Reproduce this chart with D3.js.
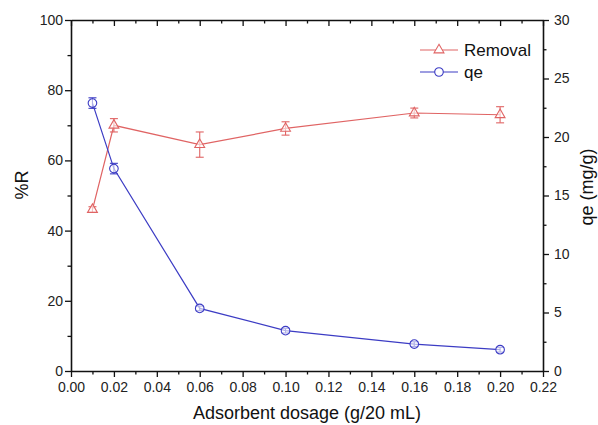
<!DOCTYPE html>
<html><head><meta charset="utf-8">
<script src="https://cdn.jsdelivr.net/npm/d3@7/dist/d3.min.js"></script>
<style>body{margin:0;background:#fff}svg{display:block;font-family:"Liberation Sans",Arial,sans-serif}</style>
</head><body><svg id="c" width="598" height="425"></svg>
<script>
const dosage = [0.01, 0.02, 0.06, 0.10, 0.16, 0.20];
const removal = [46.0, 70.0, 64.5, 69.1, 73.5, 73.0];
const removalErr = [0.8, 1.9, 3.6, 1.9, 1.4, 2.3];
const qe = [22.9, 17.3, 5.35, 3.45, 2.3, 1.82];
const qeErr = [0.45, 0.45, 0.2, 0.2, 0.2, 0.2];
const xTicks = [0,0.02,0.04,0.06,0.08,0.10,0.12,0.14,0.16,0.18,0.20,0.22];
const yLeftTicks = [0,20,40,60,80,100];
const yRightTicks = [0,5,10,15,20,25,30];

const svg = d3.select("#c");
const L=71,R=543,T=20,B=371;
const x = d3.scaleLinear().domain([0,0.22]).range([L,R]);
const yL = d3.scaleLinear().domain([0,100]).range([B,T]);
const yR = d3.scaleLinear().domain([0,30]).range([B,T]);
const red="#e06464", blue="#3c3cc4";

function styleAxis(g){
  g.selectAll("path.domain").attr("stroke","#111").attr("stroke-width",1.6);
  g.selectAll(".tick line").attr("stroke","#111").attr("stroke-width",1.3);
  g.selectAll("text").attr("font-size",14).attr("fill","#222");
}
const minorX = d3.range(0.01,0.22,0.02);
const minorL = d3.range(10,100,20);
const minorR = d3.range(2.5,30,5);

// bottom
svg.append("g").attr("transform",`translate(0,${B})`)
  .call(d3.axisBottom(x).tickValues(xTicks).tickFormat(d3.format(".2f")).tickSizeInner(6).tickSizeOuter(0).tickPadding(5))
  .call(styleAxis);
svg.append("g").attr("transform",`translate(0,${B})`)
  .call(d3.axisBottom(x).tickValues(minorX).tickFormat("").tickSize(3.5)).call(styleAxis)
  .select("path.domain").remove();
// top
svg.append("g").attr("transform",`translate(0,${T})`)
  .call(d3.axisBottom(x).tickValues(xTicks).tickFormat("").tickSizeInner(6).tickSizeOuter(0)).call(styleAxis);
svg.append("g").attr("transform",`translate(0,${T})`)
  .call(d3.axisBottom(x).tickValues(minorX).tickFormat("").tickSize(3.5)).call(styleAxis)
  .select("path.domain").remove();
// left
svg.append("g").attr("transform",`translate(${L},0)`)
  .call(d3.axisLeft(yL).tickValues(yLeftTicks).tickSizeInner(6).tickSizeOuter(0).tickPadding(2)).call(styleAxis);
svg.append("g").attr("transform",`translate(${L},0)`)
  .call(d3.axisLeft(yL).tickValues(minorL).tickFormat("").tickSize(3.5)).call(styleAxis)
  .select("path.domain").remove();
// right
svg.append("g").attr("transform",`translate(${R},0)`)
  .call(d3.axisRight(yR).tickValues(yRightTicks).tickSizeInner(6).tickSizeOuter(0).tickPadding(5)).call(styleAxis);
svg.append("g").attr("transform",`translate(${R},0)`)
  .call(d3.axisRight(yR).tickValues(minorR).tickFormat("").tickSize(3.5)).call(styleAxis)
  .select("path.domain").remove();

// axis titles
svg.append("text").attr("x",307).attr("y",419).attr("text-anchor","middle")
  .attr("font-size",18).attr("fill","#111").text("Adsorbent dosage (g/20 mL)");
svg.append("text").attr("transform",`translate(28,185) rotate(-90)`).attr("text-anchor","middle")
  .attr("font-size",18).attr("fill","#111").text("%R");
svg.append("text").attr("transform",`translate(593,187) rotate(-90)`).attr("text-anchor","middle")
  .attr("font-size",18).attr("fill","#111").text("qe (mg/g)");

function series(vals, errs, y, color, marker){
  const pts = dosage.map((d,i)=>({x:d,y:vals[i],e:errs[i]}));
  const g = svg.append("g");
  g.append("path").datum(pts).attr("fill","none").attr("stroke",color).attr("stroke-width",1.2)
    .attr("d",d3.line().x(d=>x(d.x)).y(d=>y(d.y)));
  const eb = g.selectAll(".eb").data(pts).enter().append("g").attr("stroke",color).attr("stroke-width",1.1);
  eb.append("line").attr("x1",d=>x(d.x)).attr("x2",d=>x(d.x)).attr("y1",d=>y(d.y-d.e)).attr("y2",d=>y(d.y+d.e));
  eb.append("line").attr("x1",d=>x(d.x)-4).attr("x2",d=>x(d.x)+4).attr("y1",d=>y(d.y+d.e)).attr("y2",d=>y(d.y+d.e));
  eb.append("line").attr("x1",d=>x(d.x)-4).attr("x2",d=>x(d.x)+4).attr("y1",d=>y(d.y-d.e)).attr("y2",d=>y(d.y-d.e));
  g.selectAll(".m").data(pts).enter().append("path")
    .attr("transform",d=>`translate(${x(d.x)},${y(d.y)})`)
    .attr("d",marker).attr("fill","rgba(255,255,255,0.6)").attr("stroke",color).attr("stroke-width",1.1);
}
const tri = d3.symbol().type(d3.symbolTriangle).size(42)();
const circ = d3.symbol().type(d3.symbolCircle).size(58)();
series(removal, removalErr, yL, red, tri);
series(qe, qeErr, yR, blue, circ);

// legend
const leg = [{n:"Removal",c:red,m:tri,y:50},{n:"qe",c:blue,m:circ,y:72}];
leg.forEach(l=>{
  svg.append("line").attr("x1",420).attr("x2",458).attr("y1",l.y).attr("y2",l.y).attr("stroke",l.c).attr("stroke-width",1.2);
  svg.append("path").attr("transform",`translate(439,${l.y})`).attr("d",l.m).attr("fill","#fff").attr("stroke",l.c).attr("stroke-width",1.1);
  svg.append("text").attr("x",464).attr("y",l.y+6).attr("font-size",17).attr("fill","#111").text(l.n);
});
</script></body></html>
